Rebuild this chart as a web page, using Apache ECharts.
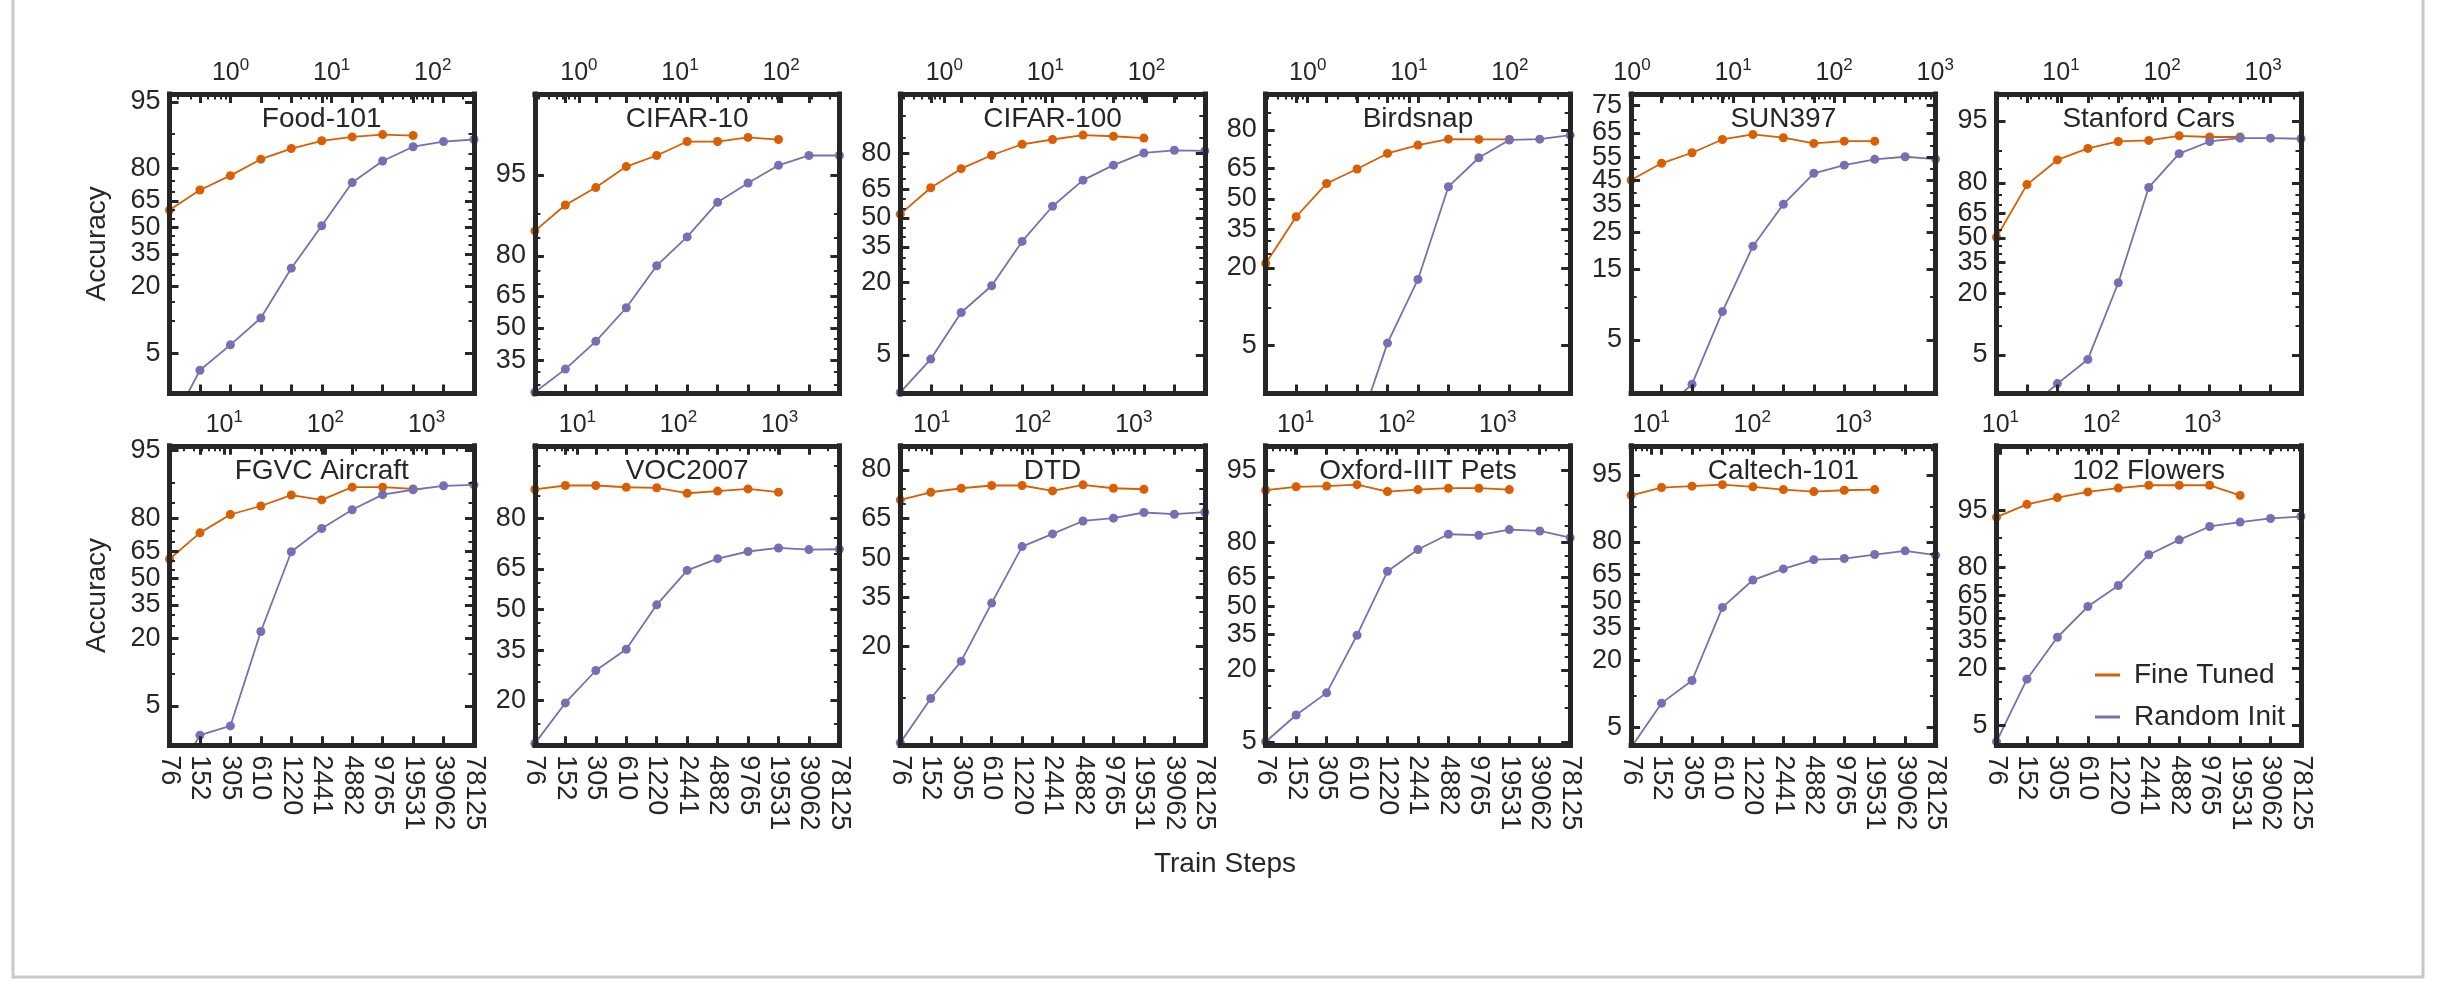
<!DOCTYPE html>
<html><head><meta charset="utf-8">
<script src="https://cdn.jsdelivr.net/npm/echarts@6/dist/echarts.min.js"></script>
<style>html,body{margin:0;padding:0;background:#fff}#c{width:2438px;height:993px}</style>
</head><body><div id="c"></div>
<script>
// ---------- DATA ----------
const steps = ['76','152','305','610','1220','2441','4882','9765','19531','39062','78125'];
const datasetNames = ['Food-101','CIFAR-10','CIFAR-100','Birdsnap','SUN397','Stanford Cars',
  'FGVC Aircraft','VOC2007','DTD','Oxford-IIIT Pets','Caltech-101','102 Flowers'];

// Fine Tuned accuracy (%), steps 76 .. 19531
const ftFood101   = [60.1,70.6,77.1,83.2,86.4,88.4,89.3,89.8,89.6];
const ftCifar10   = [86.6,91.4,93.7,95.7,96.5,97.3,97.3,97.5,97.4];
const ftCifar100  = [52.1,65.7,74.3,79.4,83.0,84.4,85.6,85.3,84.8];
const ftBirdsnap  = [21.4,41.1,57.7,64.6,71.4,74.7,76.9,76.8,76.8];
const ftSun397    = [45.2,52.4,56.9,62.4,64.4,63.1,60.8,61.7,61.7];
const ftCars      = [50.5,79.3,87.7,90.5,91.9,92.1,92.9,92.7,92.7];
const ftAircraft  = [60.9,74.0,81.3,84.1,87.2,85.9,89.1,89.1,88.7];
const ftVoc2007   = [86.2,86.9,86.9,86.6,86.5,85.5,85.9,86.3,85.7];
const ftDtd       = [71.4,73.8,75.0,75.8,75.8,74.2,76.0,75.0,74.7];
const ftPets      = [92.5,93.0,93.1,93.3,92.3,92.6,92.8,92.8,92.6];
const ftCaltech   = [92.2,93.4,93.6,93.8,93.5,93.1,92.8,93.0,93.1];
const ftFlowers   = [94.0,95.7,96.4,96.9,97.2,97.4,97.4,97.4,96.6];

// Random Init accuracy (%), steps 76 .. 78125
const riFood101   = [0.9,3.4,6.0,10.7,27.8,51.0,74.1,82.6,86.9,88.2,88.7];
const riCifar10   = [22.5,31.2,43.6,59.6,76.8,85.2,91.8,94.2,95.8,96.5,96.5];
const riCifar100  = [2.3,4.6,11.6,18.9,37.7,56.3,69.3,75.7,80.2,81.1,80.9];
const riBirdsnap  = [0.2,0.3,0.5,0.9,5.2,16.5,56.1,69.6,76.6,76.9,78.3];
const riSun397    = [1.0,1.5,2.4,7.9,20.9,35.2,48.1,51.6,54.1,55.2,54.2];
const riCars      = [0.8,1.3,2.5,4.5,24.5,78.1,89.3,91.9,92.5,92.5,92.4];
const riAircraft  = [0.8,2.6,3.2,22.6,64.8,75.9,82.9,87.3,88.5,89.4,89.6];
const riVoc2007   = [11.5,19.4,28.3,35.3,51.8,64.5,68.5,70.8,71.9,71.4,71.5];
const riDtd       = [5.2,9.9,16.5,33.0,54.5,59.4,64.2,65.2,67.2,66.6,67.3];
const riPets      = [5.0,8.6,13.2,34.7,68.0,77.3,82.6,82.3,84.0,83.6,81.5];
const riCaltech   = [3.2,8.5,13.6,46.4,62.1,68.0,72.5,73.0,74.8,76.4,74.5];
const riFlowers   = [3.3,15.8,37.1,57.7,70.8,84.9,89.4,92.4,93.2,93.8,94.1];

// y tick labels (%) per panel
const yTickLabels = [
  [5,20,35,50,65,80,95],[35,50,65,80,95],[5,20,35,50,65,80],[5,20,35,50,65,80],
  [5,15,25,35,45,55,65,75],[5,20,35,50,65,80,95],
  [5,20,35,50,65,80,95],[20,35,50,65,80],[20,35,50,65,80],[5,20,35,50,65,80,95],
  [5,20,35,50,65,80,95],[5,20,35,50,65,80,95]];
// y-axis limits (%) per panel [bottom, top]
const yLimits = [[2.0,95.8],[22.1,98.9],[2.25,93.5],[1.95,89.2],[2.05,78.4],[1.96,97.4],
  [2.07,95.5],[11.2,92.4],[5.0,85.4],[4.65,97.0],[3.36,97.4],[2.99,99.1]];
// training steps per epoch (top axis = epochs)
const stepsPerEpoch = [305,207,207,198,77.5,33,26.5,20,15.5,15,12,8.3];

const fineTuned = [ftFood101,ftCifar10,ftCifar100,ftBirdsnap,ftSun397,ftCars,ftAircraft,ftVoc2007,ftDtd,ftPets,ftCaltech,ftFlowers];
const randomInit = [riFood101,riCifar10,riCifar100,riBirdsnap,riSun397,riCars,riAircraft,riVoc2007,riDtd,riPets,riCaltech,riFlowers];

// ---------- LAYOUT / STYLE ----------
const INK = '#262626', ORANGE = '#d95f02', PURPLE = '#7570b3';
const FONT = "'Liberation Sans', Arial, Helvetica, sans-serif";
const COL0 = 169.5, COLSTEP = 365.4, ROWTOP = [94, 445.8], PW = 304.5, PH = 299.5;

const logit = p => Math.log(p / (100 - p));
const pct = v => 100 / (1 + Math.exp(-v));

const grids = [], xAxes = [], yAxes = [], series = [], graphics = [];
const spine = {show: true, onZero: false, lineStyle: {color: INK, width: 5, cap: 'square'}};
const noLine = {show: false, onZero: false};
const majorTick = vals => ({show: true, inside: true, length: 9, customValues: vals, lineStyle: {color: INK, width: 3}});
const minorTick = vals => ({show: true, inside: true, length: 5.5, customValues: vals, lineStyle: {color: INK, width: 2}});

for (let g = 0; g < 12; g++) {
  const r = Math.floor(g / 6), c = g % 6;
  const left = COL0 + c * COLSTEP, top = ROWTOP[r];
  grids.push({left: left, top: top, width: PW, height: PH, containLabel: false});
  const ymin = logit(yLimits[g][0]), ymax = logit(yLimits[g][1]);
  const xi = xAxes.length, yi = yAxes.length;

  const catTick = {show: true, inside: true, interval: 0, length: 9, lineStyle: {color: INK, width: 3}};
  xAxes.push({gridIndex: g, type: 'category', data: steps, boundaryGap: false, position: 'bottom', z: 5,
    axisLine: spine, axisTick: catTick,
    axisLabel: {show: r === 1, interval: 0, rotate: -90, margin: 10, fontSize: 27, color: INK, fontFamily: FONT},
    splitLine: {show: false}});
  xAxes.push({gridIndex: g, type: 'category', data: steps, boundaryGap: false, position: 'top', z: 5,
    axisLine: spine, axisTick: catTick, axisLabel: {show: false}, splitLine: {show: false}});

  const spe = stepsPerEpoch[g];
  const emin = Math.log10(76 / spe), emax = Math.log10(78125 / spe);
  const eMaj = [], eMin = [];
  for (let k = Math.ceil(emin - 1e-9); k <= Math.floor(emax + 1e-9); k++) eMaj.push(k);
  for (let k = Math.floor(emin); k <= Math.ceil(emax); k++)
    for (let m = 2; m <= 9; m++) { const v = k + Math.log10(m); if (v > emin && v < emax) eMin.push(v); }
  xAxes.push({gridIndex: g, type: 'value', min: emin, max: emax, position: 'top', z: 5,
    axisLine: noLine, axisTick: majorTick(eMaj),
    axisLabel: {show: true, customValues: eMaj, margin: 8,
      formatter: v => '{b|10}{s|' + Math.round(v) + '}',
      rich: {b: {fontSize: 25, fontFamily: FONT, color: INK, verticalAlign: 'bottom', lineHeight: 29},
             s: {fontSize: 17, fontFamily: FONT, color: INK, verticalAlign: 'top', lineHeight: 17}}},
    splitLine: {show: false}});
  xAxes.push({gridIndex: g, type: 'value', min: emin, max: emax, position: 'top', z: 5,
    axisLine: noLine, axisTick: minorTick(eMin), axisLabel: {show: false}, splitLine: {show: false}});

  const yMaj = yTickLabels[g].map(logit);
  const yMin = [];
  for (let p = 5; p <= 95; p += 5) { const v = logit(p); if (v > ymin && v < ymax) yMin.push(v); }
  const yBase = {gridIndex: g, type: 'value', min: ymin, max: ymax, z: 5, splitLine: {show: false}};
  yAxes.push(Object.assign({}, yBase, {position: 'left', axisLine: spine, axisTick: majorTick(yMaj),
    axisLabel: {show: true, customValues: yMaj, margin: 9, fontSize: 27, color: INK, fontFamily: FONT,
      formatter: v => String(Math.round(pct(v)))},
    name: c === 0 ? 'Accuracy' : '', nameLocation: 'middle', nameGap: 58, nameRotate: 90,
    nameTextStyle: {fontSize: 28, color: INK, fontFamily: FONT}}));
  yAxes.push(Object.assign({}, yBase, {position: 'left', axisLine: noLine, axisTick: minorTick(yMin), axisLabel: {show: false}}));
  yAxes.push(Object.assign({}, yBase, {position: 'right', axisLine: spine, axisTick: majorTick(yMaj), axisLabel: {show: false}}));
  yAxes.push(Object.assign({}, yBase, {position: 'right', axisLine: noLine, axisTick: minorTick(yMin), axisLabel: {show: false}}));

  series.push({type: 'line', name: 'Fine Tuned', xAxisIndex: xi, yAxisIndex: yi, clip: true,
    data: fineTuned[g].map(logit), color: ORANGE, symbol: 'circle', symbolSize: 9,
    lineStyle: {width: 1.8, color: ORANGE}, itemStyle: {color: ORANGE}});
  series.push({type: 'line', name: 'Random Init', xAxisIndex: xi, yAxisIndex: yi, clip: true,
    data: randomInit[g].map(logit), color: PURPLE, symbol: 'circle', symbolSize: 9,
    lineStyle: {width: 1.8, color: PURPLE}, itemStyle: {color: PURPLE}});

  graphics.push({type: 'text', x: left + PW / 2, y: top + 25, z: 20,
    style: {text: datasetNames[g], fill: INK, font: '28px ' + FONT, align: 'center', verticalAlign: 'middle'}});
}

graphics.push({type: 'text', x: 1225, y: 864, z: 20,
  style: {text: 'Train Steps', fill: INK, font: '28px ' + FONT, align: 'center', verticalAlign: 'middle'}});
graphics.push({type: 'rect', z: -1, shape: {x: 13, y: -3, width: 2410, height: 980},
  style: {fill: 'none', stroke: '#c8c8c8', lineWidth: 3}});

const chart = echarts.init(document.getElementById('c'), null, {renderer: 'canvas'});
chart.setOption({
  animation: false,
  backgroundColor: '#ffffff',
  grid: grids, xAxis: xAxes, yAxis: yAxes, series: series, graphic: graphics,
  legend: {show: true, data: ['Fine Tuned', 'Random Init'], orient: 'vertical', left: 2090, top: 656,
    icon: 'rect', itemWidth: 25, itemHeight: 3, itemGap: 14,
    textStyle: {fontSize: 28, color: INK, fontFamily: FONT, padding: [0, 0, 0, 9]}}
});
</script></body></html>
